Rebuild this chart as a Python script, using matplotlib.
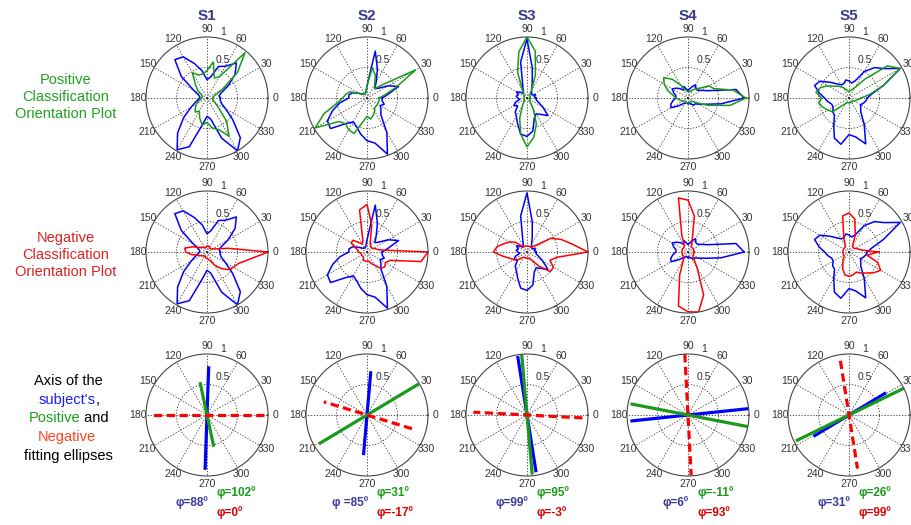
import numpy as np
import matplotlib.pyplot as plt

plt.rcParams['font.family'] = ['Liberation Sans', 'DejaVu Sans']

SUBJECTS = ["S1", "S2", "S3", "S4", "S5"]
ANGLES = np.arange(0, 360, 10)  # radii below are sampled every 10 deg

# subject's orientation plot (blue)
subj_s1 = [0.22, 0.2, 0.25, 0.4, 0.6, 0.75, 0.6, 0.55, 0.35, 0.3, 0.45, 0.6, 0.78, 0.82, 0.55, 0.25, 0.15, 0.12,
           0.12, 0.15, 0.2, 0.3, 0.5, 0.75, 0.98, 0.85, 0.45, 0.3, 0.35, 0.7, 1.0, 0.85, 0.55, 0.35, 0.25, 0.22]
subj_s2 = [0.25, 0.35, 0.55, 0.4, 0.25, 0.2, 0.3, 0.5, 0.78, 0.2, 0.1, 0.08, 0.08, 0.08, 0.1, 0.15, 0.25, 0.3,
           0.3, 0.45, 0.6, 0.75, 0.78, 0.55, 0.45, 0.5, 0.6, 0.7, 0.75, 0.98, 0.65, 0.35, 0.3, 0.25, 0.3, 0.25]
subj_s3 = [0.15, 0.12, 0.15, 0.1, 0.1, 0.12, 0.15, 0.25, 0.5, 0.97, 0.6, 0.2, 0.12, 0.1, 0.15, 0.2, 0.15, 0.18,
           0.15, 0.12, 0.2, 0.25, 0.2, 0.3, 0.35, 0.45, 0.6, 0.63, 0.55, 0.35, 0.3, 0.35, 0.45, 0.3, 0.2, 0.15]
subj_s4 = [0.92, 0.8, 0.35, 0.25, 0.2, 0.2, 0.25, 0.2, 0.15, 0.12, 0.15, 0.2, 0.15, 0.2, 0.25, 0.3, 0.25, 0.2,
           0.2, 0.25, 0.3, 0.32, 0.2, 0.12, 0.1, 0.08, 0.08, 0.1, 0.08, 0.1, 0.12, 0.15, 0.15, 0.2, 0.3, 0.55]
subj_s5 = [0.3, 0.38, 0.6, 0.97, 0.75, 0.65, 0.5, 0.3, 0.25, 0.28, 0.3, 0.25, 0.25, 0.3, 0.4, 0.55, 0.6, 0.5,
           0.4, 0.35, 0.3, 0.3, 0.35, 0.37, 0.5, 0.7, 0.77, 0.6, 0.65, 0.8, 0.5, 0.3, 0.25, 0.22, 0.25, 0.28]

# positive classification orientation plot (green)
pos_s1 = [0.1, 0.1, 0.15, 0.3, 0.65, 0.97, 0.4, 0.35, 0.6, 0.45, 0.4, 0.4, 0.48, 0.3, 0.2, 0.1, 0.08, 0.08,
          0.1, 0.1, 0.15, 0.2, 0.25, 0.3, 0.25, 0.35, 0.45, 0.4, 0.5, 0.55, 0.72, 0.5, 0.25, 0.15, 0.1, 0.1]
pos_s2 = [0.2, 0.3, 0.5, 0.92, 0.35, 0.2, 0.25, 0.4, 0.5, 0.2, 0.1, 0.08, 0.08, 0.08, 0.1, 0.15, 0.3, 0.35,
          0.4, 0.5, 0.75, 0.98, 0.6, 0.55, 0.6, 0.62, 0.4, 0.3, 0.35, 0.3, 0.25, 0.2, 0.2, 0.2, 0.2, 0.2]
pos_s3 = [0.05, 0.05, 0.05, 0.05, 0.06, 0.08, 0.15, 0.4, 0.78, 1.0, 0.77, 0.45, 0.15, 0.08, 0.06, 0.05, 0.05, 0.05,
          0.05, 0.05, 0.05, 0.05, 0.06, 0.08, 0.15, 0.35, 0.6, 0.8, 0.65, 0.45, 0.2, 0.08, 0.06, 0.05, 0.05, 0.05]
pos_s4 = [0.95, 0.75, 0.45, 0.4, 0.25, 0.2, 0.15, 0.12, 0.1, 0.1, 0.12, 0.15, 0.25, 0.4, 0.52, 0.45, 0.35, 0.25,
          0.2, 0.15, 0.12, 0.1, 0.08, 0.08, 0.08, 0.08, 0.08, 0.08, 0.08, 0.08, 0.08, 0.08, 0.08, 0.15, 0.35, 0.7]
pos_s5 = [0.2, 0.35, 0.6, 0.97, 0.82, 0.4, 0.2, 0.15, 0.12, 0.1, 0.12, 0.15, 0.2, 0.25, 0.3, 0.4, 0.5, 0.55,
          0.45, 0.5, 0.45, 0.4, 0.35, 0.15, 0.1, 0.08, 0.08, 0.08, 0.08, 0.08, 0.08, 0.08, 0.08, 0.1, 0.12, 0.15]

# negative classification orientation plot (red)
neg_s1 = [1.0, 0.35, 0.15, 0.1, 0.08, 0.08, 0.08, 0.1, 0.1, 0.1, 0.08, 0.08, 0.08, 0.1, 0.12, 0.15, 0.25, 0.37,
          0.35, 0.25, 0.15, 0.12, 0.1, 0.08, 0.08, 0.08, 0.1, 0.1, 0.12, 0.15, 0.25, 0.35, 0.45, 0.5, 0.55, 0.7]
neg_s2 = [1.0, 0.2, 0.15, 0.12, 0.1, 0.1, 0.12, 0.15, 0.45, 0.78, 0.7, 0.2, 0.15, 0.2, 0.3, 0.3, 0.2, 0.15,
          0.15, 0.1, 0.1, 0.1, 0.1, 0.1, 0.12, 0.15, 0.15, 0.15, 0.15, 0.2, 0.25, 0.35, 0.38, 0.35, 0.4, 0.9]
neg_s3 = [1.0, 0.75, 0.6, 0.45, 0.15, 0.1, 0.1, 0.1, 0.1, 0.1, 0.1, 0.1, 0.1, 0.12, 0.25, 0.33, 0.4, 0.5,
          0.55, 0.4, 0.3, 0.25, 0.2, 0.12, 0.1, 0.1, 0.1, 0.1, 0.1, 0.12, 0.15, 0.3, 0.5, 0.5, 0.4, 0.5]
neg_s4 = [0.1, 0.1, 0.1, 0.1, 0.1, 0.1, 0.1, 0.2, 0.6, 0.85, 0.9, 0.3, 0.12, 0.1, 0.1, 0.1, 0.1, 0.1,
          0.1, 0.1, 0.1, 0.1, 0.1, 0.1, 0.15, 0.4, 0.9, 0.98, 1.0, 0.75, 0.3, 0.15, 0.1, 0.1, 0.1, 0.1]
neg_s5 = [0.48, 0.2, 0.15, 0.12, 0.1, 0.1, 0.12, 0.3, 0.55, 0.64, 0.6, 0.25, 0.12, 0.1, 0.1, 0.1, 0.1, 0.1,
          0.1, 0.1, 0.1, 0.1, 0.1, 0.15, 0.2, 0.3, 0.38, 0.4, 0.38, 0.35, 0.4, 0.45, 0.53, 0.6, 0.5, 0.3]

subj_curves = [subj_s1, subj_s2, subj_s3, subj_s4, subj_s5]
pos_curves = [pos_s1, pos_s2, pos_s3, pos_s4, pos_s5]
neg_curves = [neg_s1, neg_s2, neg_s3, neg_s4, neg_s5]

# fitted ellipse axes: angle (deg) and half lengths (along phi, along phi+180)
phi_subj = [88, 85, 99, 6, 31]
phi_pos = [102, 31, 95, -11, 26]
phi_neg = [0, -17, -3, 93, 99]
len_subj = [(0.8, 0.9), (0.72, 0.66), (0.98, 0.95), (1.0, 0.95), (0.71, 0.68)]
len_pos = [(0.55, 0.53), (0.99, 0.92), (1.0, 0.98), (1.0, 0.96), (1.0, 0.97)]
len_neg = [(0.93, 0.93), (0.77, 0.74), (0.91, 0.88), (1.0, 0.99), (0.9, 0.89)]
subj_lbl = ["φ=88º", "φ =85º", "φ=99º", "φ=6º", "φ=31º"]
pos_lbl = ["φ=102º", "φ=31º", "φ=95º", "φ=-11º", "φ=26º"]
neg_lbl = ["φ=0º", "φ=-17º", "φ=-3º", "φ=93º", "φ=99º"]

BLUE, GREEN, RED = "#0000ff", "#1a9a1a", "#ff0000"
TITLE_C = "#3a3a8c"

W, H = 912, 525
COL_X = [207, 367, 527, 688, 849]
ROW_Y = [98, 252, 415]
R = 61

fig = plt.figure(figsize=(W / 100, H / 100), dpi=100)


def make_polar(cx, cy):
    ax = fig.add_axes([(cx - R) / W, 1 - (cy + R) / H, 2 * R / W, 2 * R / H], projection="polar")
    ax.set_ylim(0, 1)
    ax.set_yticks([0.5])
    ax.set_yticklabels([])
    ax.set_thetagrids(np.arange(0, 360, 30), [str(a) for a in range(0, 360, 30)],
                      fontsize=7.5, color="#333333")
    ax.tick_params(axis="x", pad=-5)
    ax.grid(True, linestyle=(0, (1.5, 2)), color="#333333", linewidth=0.6)
    ax.spines["polar"].set_color("#444444")
    ax.spines["polar"].set_linewidth(0.8)
    ax.text(np.deg2rad(67), 0.68, "0.5", fontsize=7.5, color="#333333", ha="center", va="center")
    ax.text(np.deg2rad(76), 1.12, "1", fontsize=7.5, color="#333333", ha="center", va="center")
    return ax


def closed(r):
    th = np.deg2rad(np.append(ANGLES, 360))
    return th, np.append(r, r[0])


def axis_line(ax, phi, lens, color, ls):
    t = np.deg2rad(phi)
    ax.plot([t, t, t + np.pi], [lens[0], 0, lens[1]], color=color, lw=2.3, linestyle=ls,
            solid_capstyle="butt", dash_capstyle="butt")


for i, s in enumerate(SUBJECTS):
    cx = COL_X[i]
    fig.text(cx / W, 1 - 16.5 / H, s, fontsize=11, fontweight="bold", color=TITLE_C, ha="center", va="center")

    ax = make_polar(cx, ROW_Y[0])
    ax.plot(*closed(subj_curves[i]), color=BLUE, lw=1.1)
    ax.plot(*closed(pos_curves[i]), color=GREEN, lw=1.1)

    ax = make_polar(cx, ROW_Y[1])
    ax.plot(*closed(subj_curves[i]), color=BLUE, lw=1.1)
    ax.plot(*closed(neg_curves[i]), color=RED, lw=1.1)

    ax = make_polar(cx, ROW_Y[2])
    axis_line(ax, phi_subj[i], len_subj[i], BLUE, "-")
    axis_line(ax, phi_pos[i], len_pos[i], GREEN, "-")
    axis_line(ax, phi_neg[i], len_neg[i], RED, (0, (2.6, 1.4)))

    fig.text((cx + 1) / W, 1 - 503 / H, subj_lbl[i], fontsize=8.5, fontweight="bold", color="#3a3a9a",
             ha="right", va="center")
    fig.text((cx + 10) / W, 1 - 493 / H, pos_lbl[i], fontsize=8.5, fontweight="bold", color="#1a9a1a",
             ha="left", va="center")
    fig.text((cx + 10) / W, 1 - 513 / H, neg_lbl[i], fontsize=8.5, fontweight="bold", color="#dd0000",
             ha="left", va="center")

# row labels
fig.text(66 / W, 1 - 97 / H, "Positive\nClassification\nOrientation Plot", fontsize=10.5, color="#22a022",
         ha="center", va="center", linespacing=1.25)
fig.text(66 / W, 1 - 255 / H, "Negative\nClassification\nOrientation Plot", fontsize=10.5, color="#dd2222",
         ha="center", va="center", linespacing=1.25)

fs = 10.5
fig.text(68 / W, 1 - 381 / H, "Axis of the", fontsize=fs, color="black", ha="center", va="center")
fig.text(96 / W, 1 - 400 / H, "subject's", fontsize=fs, color="#1a1aff", ha="right", va="center")
fig.text(96 / W, 1 - 400 / H, ",", fontsize=fs, color="black", ha="left", va="center")
fig.text(80 / W, 1 - 418 / H, "Positive", fontsize=fs, color="#1aa01a", ha="right", va="center")
fig.text(80 / W, 1 - 418 / H, " and", fontsize=fs, color="black", ha="left", va="center")
fig.text(67 / W, 1 - 437 / H, "Negative", fontsize=fs, color="#ff4422", ha="center", va="center")
fig.text(68 / W, 1 - 456 / H, "fitting ellipses", fontsize=fs, color="black", ha="center", va="center")

fig.savefig("out.png", dpi=100)
